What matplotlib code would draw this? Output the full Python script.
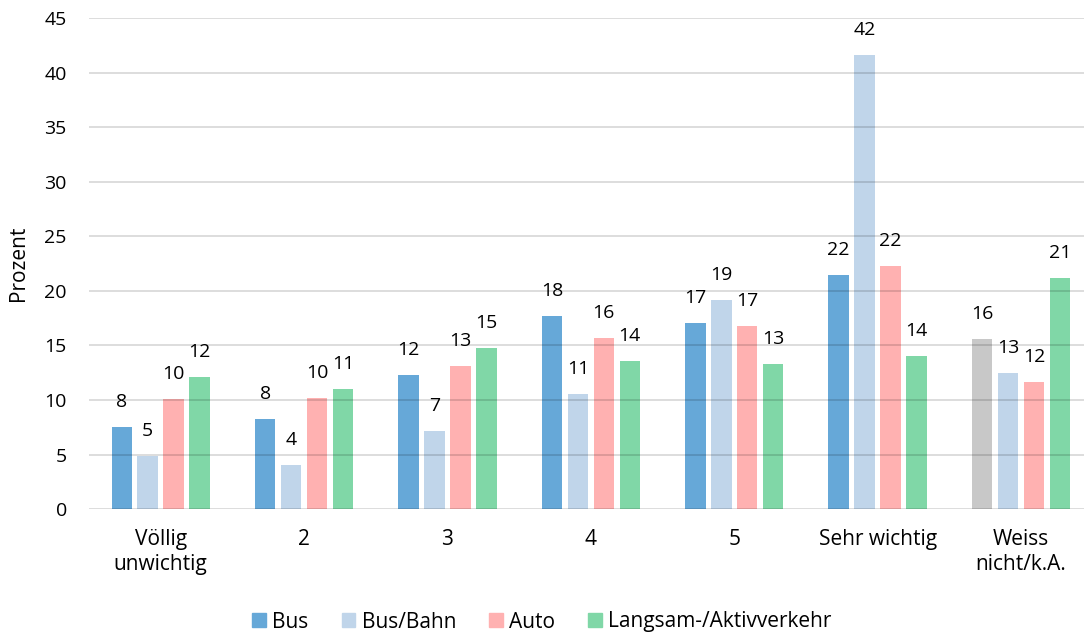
import numpy as np
import matplotlib
matplotlib.use("Agg")
import matplotlib.pyplot as plt
from matplotlib.patches import Patch

plt.rcParams['font.family'] = ['Open Sans', 'DejaVu Sans']

# Data
categories = ["Völlig\nunwichtig", "2", "3", "4", "5", "Sehr wichtig", "Weiss\nnicht/k.A."]
series = ["Bus", "Bus/Bahn", "Auto", "Langsam-/Aktivverkehr"]
bus = [7.5, 8.3, 12.3, 17.7, 17.05, 21.45, 15.6]
bus_bahn = [4.9, 4.0, 7.15, 10.55, 19.2, 41.65, 12.5]
auto = [10.05, 10.15, 13.15, 15.7, 16.8, 22.3, 11.65]
langsam = [12.15, 11.05, 14.75, 13.55, 13.3, 14.0, 21.2]
bus_labels = [8, 8, 12, 18, 17, 22, 16]
bus_bahn_labels = [5, 4, 7, 11, 19, 42, 13]
auto_labels = [10, 10, 13, 16, 17, 22, 12]
langsam_labels = [12, 11, 15, 14, 13, 14, 21]

colors = ["#66A8D8", "#C0D5EA", "#FFB1B1", "#80D7A7"]
gray = "#C8C8C8"

values = [bus, bus_bahn, auto, langsam]
labels = [bus_labels, bus_bahn_labels, auto_labels, langsam_labels]

fig = plt.figure(figsize=(10.84, 6.34), dpi=100)
ax = fig.add_axes([0.0821, 0.197, 0.918, 0.7745])

x = np.arange(len(categories))
pitch = 0.181
width = 0.143

for i, (vals, labs, col) in enumerate(zip(values, labels, colors)):
    pos = x + (i - 1.5) * pitch
    bar_colors = [col] * len(vals)
    if i == 0:
        bar_colors[-1] = gray  # "Weiss nicht" bus bar shown in gray
    ax.bar(pos, vals, width=width, color=bar_colors, zorder=2)
    for px, v, lab in zip(pos, vals, labs):
        ax.annotate(str(lab), (px, v), xytext=(0, 25), textcoords='offset pixels',
                    ha='center', va='center', fontsize=14, color='black')

# gridlines (show faintly through bars)
for yv in range(0, 50, 5):
    ax.axhline(yv, color='black', alpha=0.15, linewidth=1.3, zorder=3)

ax.set_ylim(0, 45)
ax.set_xlim(-0.5, 6.44)
ax.set_yticks(range(0, 50, 5))
ax.set_xticks(x)
ax.set_xticklabels(categories, fontsize=15, linespacing=1.25)
ax.tick_params(axis='y', length=0, pad=16, labelsize=14)
ax.tick_params(axis='x', length=0, pad=14)
for s in ax.spines.values():
    s.set_visible(False)

fig.text(18 / 1084, 1 - 263 / 634, "Prozent", rotation=90, ha='center', va='center', fontsize=15)

handles = [Patch(color=c) for c in colors]
fig.legend(handles, series, loc='center', bbox_to_anchor=(0.5, 1 - 622 / 634), ncol=4,
           frameon=False, fontsize=15, handlelength=0.65, handleheight=0.65,
           handletextpad=0.3, columnspacing=1.6)

fig.savefig("out.png", dpi=100)
